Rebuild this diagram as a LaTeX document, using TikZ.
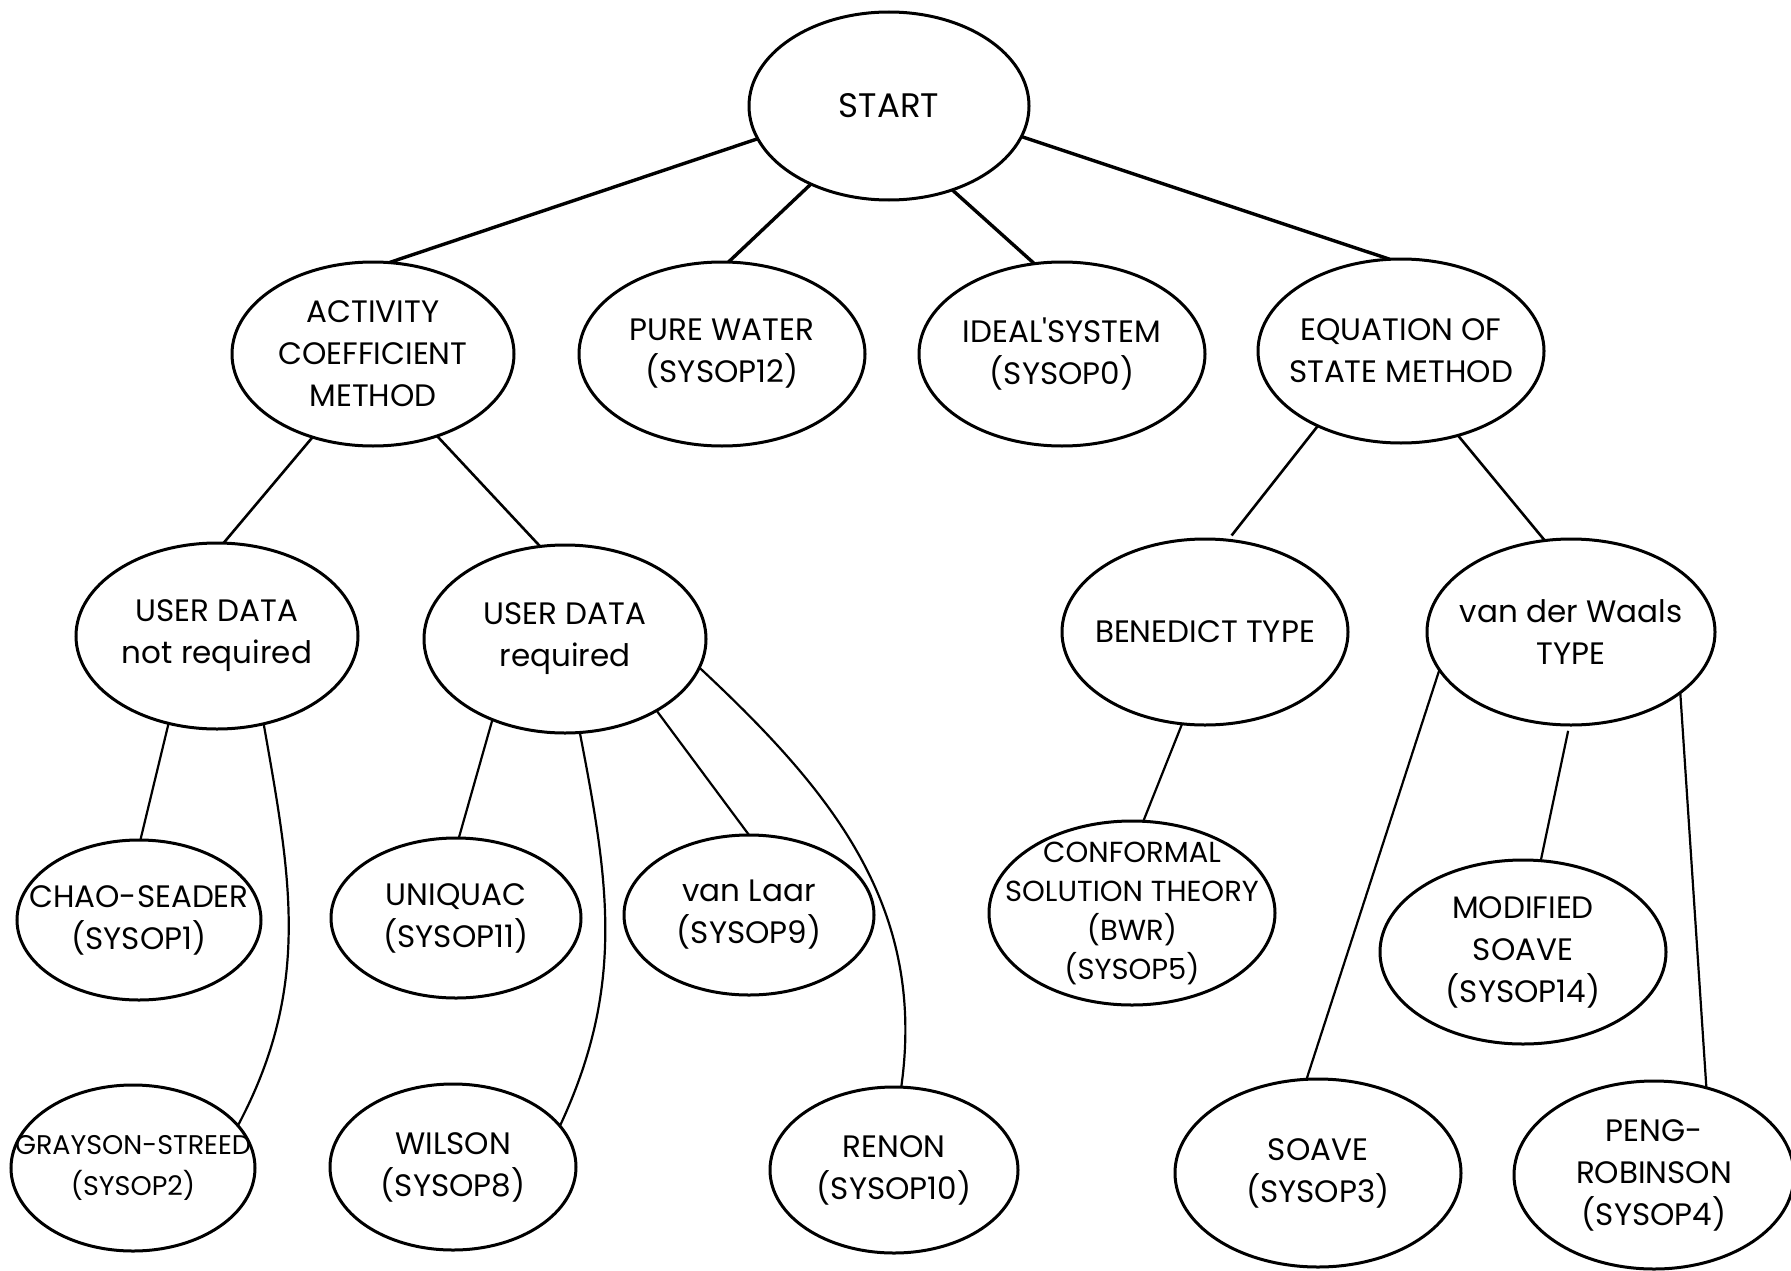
\documentclass[tikz,border=0pt]{standalone}
\usepackage{fontspec}
\setmainfont{Poppins}
\usetikzlibrary{shapes.geometric}

\tikzset{
  bub/.style 2 args={ellipse, draw, line width=3pt, inner sep=0pt, outer sep=0pt,
    minimum width=#1pt, minimum height=#2pt},
  txt/.style={align=center, inner sep=0pt, font=\fontsize{31}{42}\selectfont},
  toplink/.style={line width=3.4pt},
  link/.style={line width=2.6pt},
  lowlink/.style={line width=2.2pt},
}

\begin{document}
\begin{tikzpicture}[x=1pt,y=-1pt]
\useasboundingbox (0,0) rectangle (1791,1271);
\fill[white] (0,0) rectangle (1791,1271);

% top level
\node[bub={280}{188}, label={[txt, font=\fontsize{34}{44}\selectfont]center:START}] (start) at (889,106) {};

% second level
\node[bub={282}{184}, label={[txt]center:{ACTIVITY\\COEFFICIENT\\METHOD}}] (act) at (373,354) {};
\node[bub={286}{184}, label={[txt]center:{PURE WATER\\(SYSOP12)}}] (pure) at (722,354) {};
\node[bub={286}{184}, label={[txt]center:{IDEAL\textquotesingle SYSTEM\\(SYSOP0)}}] (ideal) at (1062,354) {};
\node[bub={286}{184}, label={[txt]center:{EQUATION OF\\STATE METHOD}}] (eq) at (1401,351) {};

% third level
\node[bub={282}{186}, label={[txt]center:{USER DATA\\not required}}] (udnr) at (217,636) {};
\node[bub={282}{188}, label={[txt]center:{USER DATA\\required}}] (udr) at (565,639) {};
\node[bub={286}{186}, label={[txt]center:{BENEDICT TYPE}}] (ben) at (1205,632) {};
\node[bub={288}{186}, label={[txt]center:{van der Waals\\TYPE}}] (vdw) at (1571,632) {};

% fourth level
\node[bub={244}{160}, label={[txt]center:{CHAO-SEADER\\(SYSOP1)}}] (chao) at (139,920) {};
\node[bub={250}{160}, label={[txt]center:{UNIQUAC\\(SYSOP11)}}] (uniq) at (456,918) {};
\node[bub={250}{160}, label={[txt]center:{van Laar\\(SYSOP9)}}] (laar) at (749,915) {};
\node[bub={286}{184}, label={[txt, font=\fontsize{29}{39}\selectfont]center:{CONFORMAL\\SOLUTION THEORY\\(BWR)\\(SYSOP5)}}] (conf) at (1132,913) {};
\node[bub={286}{184}, label={[txt]center:{MODIFIED\\SOAVE\\(SYSOP14)}}] (msoave) at (1523,952) {};

% bottom level
\node[bub={244}{166}, label={[txt, font=\fontsize{27}{41}\selectfont]center:{GRAYSON-STREED\\(SYSOP2)}}] (gray) at (133,1168) {};
\node[bub={246}{166}, label={[txt]center:{WILSON\\(SYSOP8)}}] (wilson) at (453,1167) {};
\node[bub={248}{166}, label={[txt]center:{RENON\\(SYSOP10)}}] (renon) at (894,1170) {};
\node[bub={286}{188}, label={[txt]center:{SOAVE\\(SYSOP3)}}] (soave) at (1318,1173) {};
\node[bub={280}{188}, label={[txt]center:{PENG-\\ROBINSON\\(SYSOP4)}}] (peng) at (1654,1175) {};

% connectors from START
\draw[toplink] (start.194) -- (act.80);
\draw[toplink] (start.225) -- (pure.86);
\draw[toplink] (start.307) -- (ideal.107);
\draw[toplink] (start.347) -- (eq.97);

% connectors of the two method branches
\draw[link] (act.234) -- (udnr.86);
\draw[link] (act.308) -- (udr.105);
\draw[link, shorten >=6pt] (eq.222) -- (ben.76);
\draw[link] (eq.304) -- (vdw.106);

% activity coefficient models
\draw[lowlink] (udnr.241) -- (chao.89);
\draw[lowlink] (udnr.298) to[out=-80, in=62] (gray.22);
\draw[lowlink] (udr.228) -- (uniq.88);
\draw[lowlink] (udr.279) to[out=-79, in=65] (wilson.21);
\draw[lowlink] (udr.322) -- (laar.90);
\draw[lowlink] (udr.348) to[out=-43, in=82] (renon.85);

% equation of state models
\draw[lowlink] (ben.256) -- (conf.83);
\draw[lowlink] (vdw.196) -- (soave.97);
\draw[lowlink, shorten <=6pt] (vdw.269) -- (msoave.79);
\draw[lowlink] (vdw.331) -- (peng.59);
\end{tikzpicture}
\end{document}
